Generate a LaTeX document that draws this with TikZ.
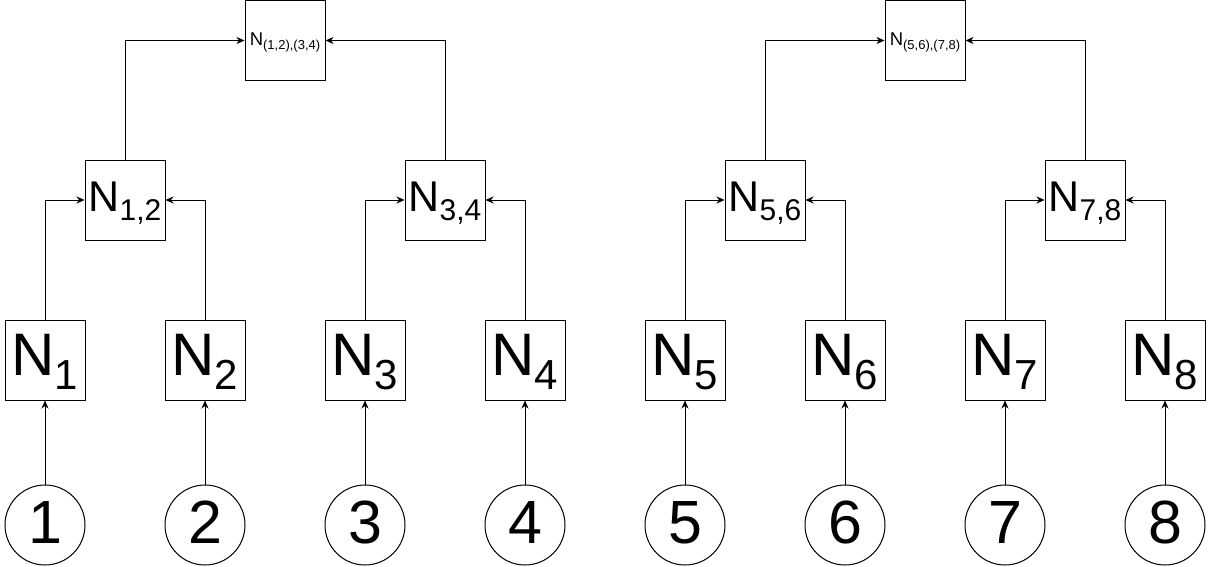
\documentclass[tikz,border=0pt]{standalone}
\usepackage{fontspec}
\setmainfont{Liberation Sans}
\usetikzlibrary{arrows.meta}
\newcommand\mylab[4]{\fontsize{#1}{#1}\selectfont N\raisebox{-#3}{\fontsize{#2}{#2}\selectfont #4}}
\begin{document}
\begin{tikzpicture}[x=1pt,y=-1pt,
  every path/.style={line width=1pt},
  leaf/.style={draw,circle,minimum size=80pt,inner sep=0pt,font=\fontsize{61}{61}\selectfont,text height=36pt,text depth=0pt},
  bbox/.style={draw,rectangle,minimum size=80pt,inner sep=0pt,fill=white},
  lvlone/.style={bbox,text height=31pt,text depth=0pt},
  lvltwo/.style={bbox,text height=22pt,text depth=0pt},
  lvlthree/.style={bbox,text height=10.6pt,text depth=0pt},
  conn/.style={-{Stealth[length=8pt,width=7pt,inset=2.5pt]}}]
\useasboundingbox (0,0) rectangle (1211,566);
\foreach \i/\x in {1/45,2/205,3/365,4/525,5/685,6/845,7/1005,8/1165}{
  \node[leaf] (c\i) at (\x,525) {\i};
  \node[lvlone] (n\i) at (\x,360) {\mylab{60}{42}{14pt}{\i}};
  \draw[conn] (c\i) -- (n\i);
}
\node[lvltwo] (n12) at (125,200) {\mylab{43}{30}{9.5pt}{1,2}};
\node[lvltwo] (n34) at (445,200) {\mylab{43}{30}{9.5pt}{3,4}};
\node[lvltwo] (n56) at (765,200) {\mylab{43}{30}{9.5pt}{5,6}};
\node[lvltwo] (n78) at (1085,200) {\mylab{43}{30}{9.5pt}{7,8}};
\node[lvlthree] (t1) at (285,40.5) {\mylab{18.5}{13}{4pt}{(1,2),(3,4)}};
\node[lvlthree] (t2) at (925,40.5) {\mylab{18.5}{13}{4pt}{(5,6),(7,8)}};
\draw[conn] (n1.north) |- (n12.west);
\draw[conn] (n2.north) |- (n12.east);
\draw[conn] (n3.north) |- (n34.west);
\draw[conn] (n4.north) |- (n34.east);
\draw[conn] (n5.north) |- (n56.west);
\draw[conn] (n6.north) |- (n56.east);
\draw[conn] (n7.north) |- (n78.west);
\draw[conn] (n8.north) |- (n78.east);
\draw[conn] (n12.north) |- (t1.west);
\draw[conn] (n34.north) |- (t1.east);
\draw[conn] (n56.north) |- (t2.west);
\draw[conn] (n78.north) |- (t2.east);
\end{tikzpicture}
\end{document}
